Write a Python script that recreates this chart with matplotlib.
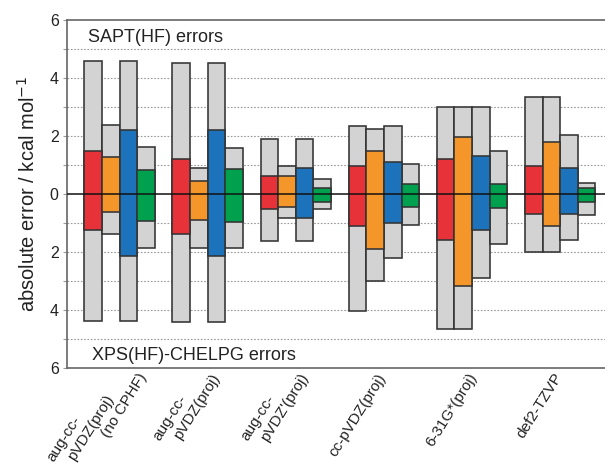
import matplotlib
matplotlib.use("Agg")
import matplotlib.pyplot as plt
import matplotlib.transforms as mtransforms
import numpy as np

plt.rcParams['font.family'] = ['Liberation Sans', 'DejaVu Sans']

# Basis sets (x categories)
basis_labels = [
    "aug-cc-\npVDZ(proj)\n(no CPHF)",
    "aug-cc-\npVDZ(proj)",
    "aug-cc-\npVDZ'(proj)",
    "cc-pVDZ(proj)",
    "6-31G*(proj)",
    "def2-TZVP",
]

# Four energy components per basis set.
# SAPT(HF) errors (upwards): outer (grey) and inner (coloured) magnitudes
sapt_outer = {
    "red":    [4.59, 4.52, 1.87, 2.33, 2.99, 3.33],
    "orange": [2.37, 0.89, 0.96, 2.23, 2.99, 3.33],
    "blue":   [4.59, 4.52, 1.87, 2.33, 2.99, 2.02],
    "green":  [1.60, 1.58, 0.50, 1.01, 1.47, 0.38],
}
sapt_inner = {
    "red":    [1.46, 1.21, 0.61, 0.97, 1.21, 0.94],
    "orange": [1.25, 0.45, 0.61, 1.47, 1.95, 1.78],
    "blue":   [2.21, 2.21, 0.90, 1.11, 1.31, 0.90],
    "green":  [0.82, 0.85, 0.21, 0.32, 0.35, 0.21],
}
# XPS(HF)-CHELPG errors (downwards)
xps_inner = {
    "red":    [1.26, 1.39, 0.54, 1.11, 1.60, 0.71],
    "orange": [0.64, 0.92, 0.45, 1.91, 3.18, 1.12],
    "blue":   [2.13, 2.13, 0.85, 1.02, 1.26, 0.68],
    "green":  [0.95, 0.98, 0.29, 0.44, 0.48, 0.29],
}
xps_outer = {
    "red":    [4.39, 4.43, 1.64, 4.02, 4.64, 2.02],
    "orange": [1.39, 1.85, 0.82, 3.02, 4.64, 2.02],
    "blue":   [4.39, 4.43, 1.64, 2.22, 2.91, 1.59],
    "green":  [1.86, 1.85, 0.54, 1.06, 1.73, 0.72],
}

colors = {
    "red": "#e8323a",
    "orange": "#f5962a",
    "blue": "#1c72bb",
    "green": "#00a14e",
}
grey = "#d3d3d3"
edge = "#333333"

yticks = np.arange(-6, 7, 1)

fig = plt.figure(figsize=(6.05, 4.66), dpi=100)
ax = fig.add_axes([0.1107, 0.2103, 0.8893, 0.7477])

n = len(basis_labels)
x = np.arange(n)
width = 0.2
keys = list(colors.keys())

for k, key in enumerate(keys):
    xpos = x + (k - 1.5) * width
    up_o = np.array(sapt_outer[key])
    dn_o = np.array(xps_outer[key])
    up_i = np.array(sapt_inner[key])
    dn_i = np.array(xps_inner[key])
    ax.bar(xpos, up_o + dn_o, bottom=-dn_o, width=width, color=grey,
           edgecolor=edge, linewidth=1.15, zorder=2)
    ax.bar(xpos, up_i + dn_i, bottom=-dn_i, width=width, color=colors[key],
           edgecolor=edge, linewidth=1.15, zorder=3)

# dotted reference lines
for yv in yticks:
    if yv in (-6, 0, 6):
        continue
    ax.axhline(yv, color="#9a9a9a", linewidth=0.8, linestyle=(0, (1.5, 1.5)),
               zorder=1)
ax.axhline(0, color="#111111", linewidth=1.1, zorder=4)

ax.set_xlim(-0.596, 5.508)
ax.set_ylim(-6, 6)

ax.set_yticks(yticks)
ax.set_yticklabels([str(abs(v)) if v % 2 == 0 else "" for v in yticks],
                   fontsize=11.5, color="#222222")
ax.tick_params(axis="y", direction="out", length=3, width=0.8,
               color="#9a9a9a", pad=3)
ax.set_xticks([])

for side in ("left", "top", "bottom"):
    ax.spines[side].set_color("#666666")
    ax.spines[side].set_linewidth(1.2)
ax.spines["right"].set_visible(False)

ax.set_ylabel("absolute error / kcal mol$^{-1}$", fontsize=14.5,
              color="#222222", labelpad=8)

ax.text(-0.36, 5.38, "SAPT(HF) errors", fontsize=13, va="center", ha="left",
        color="#222222")
ax.text(-0.31, -5.56, "XPS(HF)-CHELPG errors", fontsize=13, va="center",
        ha="left", color="#222222")

# rotated category labels below the axes; each line is set separately so
# that the lines step down-left in a staircase
trans = mtransforms.blended_transform_factory(ax.transData, ax.transAxes)
label_shift_px = [18, 3, 3, -7, -4, -7]
step_px = (-33, 21)
for xi, lab, dx in zip(x, basis_labels, label_shift_px):
    lines = lab.split("\n")
    nl = len(lines)
    for j, line in enumerate(lines):
        back = nl - 1 - j
        ox = dx + back * step_px[0]
        oy = 3 + back * step_px[1]
        off = mtransforms.ScaledTranslation(ox / 100, -oy / 100,
                                            fig.dpi_scale_trans)
        ax.text(xi, 0, line, transform=trans + off, rotation=58,
                rotation_mode="anchor", ha="right", va="top",
                fontsize=11, color="#222222")

fig.savefig("out.png", dpi=100)
